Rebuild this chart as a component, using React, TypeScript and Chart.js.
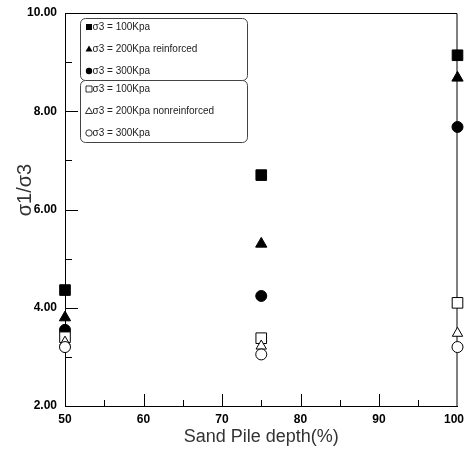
import { useEffect, useRef } from "react";
import { Chart, registerables } from "chart.js";

Chart.register(...registerables);

// Sand pile depth (%) on the x axis
const depths = [50, 75, 100];

// σ1/σ3 ratios, reinforced piles
const reinforced100 = [4.36, 6.7, 9.14];
const reinforced200 = [3.8, 5.3, 8.68];
const reinforced300 = [3.55, 4.24, 7.68];

// σ1/σ3 ratios, non-reinforced piles
const plain100 = [3.4, 3.38, 4.1];
const plain200 = [3.3, 3.22, 3.48];
const plain300 = [3.2, 3.05, 3.2];

const legendReinforced = ["σ3 = 100Kpa", "σ3 = 200Kpa reinforced", "σ3 = 300Kpa"];
const legendPlain = ["σ3 = 100Kpa", "σ3 = 200Kpa nonreinforced", "σ3 = 300Kpa"];
const legendShapes = ["rect", "triangle", "circle"];

const xTitle = "Sand Pile depth(%)";
const yTitle = "σ1/σ3";

const FONT = "'Liberation Sans', Arial, sans-serif";

function toPoints(values: number[]) {
  return depths.map((d, i) => ({ x: d, y: values[i] }));
}

function marker(ctx: CanvasRenderingContext2D, shape: string, x: number, y: number, filled: boolean) {
  ctx.beginPath();
  if (shape === "rect") {
    ctx.rect(x - 3, y - 3, 6, 6);
  } else if (shape === "triangle") {
    ctx.moveTo(x, y - 3.5);
    ctx.lineTo(x + 3.5, y + 2.5);
    ctx.lineTo(x - 3.5, y + 2.5);
    ctx.closePath();
  } else {
    ctx.arc(x, y, 3.2, 0, Math.PI * 2);
  }
  if (filled) {
    ctx.fillStyle = "#000";
    ctx.fill();
  } else {
    ctx.fillStyle = "#fff";
    ctx.fill();
    ctx.strokeStyle = "#000";
    ctx.lineWidth = 0.8;
    ctx.stroke();
  }
}

function roundBox(ctx: CanvasRenderingContext2D, x: number, y: number, w: number, h: number, r: number) {
  ctx.beginPath();
  ctx.moveTo(x + r, y);
  ctx.lineTo(x + w - r, y);
  ctx.arcTo(x + w, y, x + w, y + r, r);
  ctx.lineTo(x + w, y + h - r);
  ctx.arcTo(x + w, y + h, x + w - r, y + h, r);
  ctx.lineTo(x + r, y + h);
  ctx.arcTo(x, y + h, x, y + h - r, r);
  ctx.lineTo(x, y + r);
  ctx.arcTo(x, y, x + r, y, r);
  ctx.closePath();
}

// Frame, inward tick marks, x tick labels, axis titles and the two-part legend
const decorations = {
  id: "decorations",
  beforeDatasetsDraw(chart: any) {
    const { ctx, chartArea, scales } = chart;
    const xs = scales.x;
    const ys = scales.y;
    ctx.save();
    ctx.strokeStyle = "#000";
    ctx.lineWidth = 1;
    ctx.beginPath();
    ctx.moveTo(chartArea.left, chartArea.top + 0.5);
    ctx.lineTo(chartArea.right - 0.5, chartArea.top + 0.5);
    ctx.lineTo(chartArea.right - 0.5, chartArea.bottom);
    ctx.stroke();

    ctx.beginPath();
    for (let v = 3; v <= 9; v++) {
      const py = Math.round(ys.getPixelForValue(v)) + 0.5;
      const len = v % 2 === 0 ? 13 : 7;
      ctx.moveTo(chartArea.left, py);
      ctx.lineTo(chartArea.left + len, py);
    }
    for (let v = 55; v <= 95; v += 5) {
      const px = Math.round(xs.getPixelForValue(v)) + 0.5;
      const len = v % 10 === 0 ? 12 : 6;
      ctx.moveTo(px, chartArea.bottom);
      ctx.lineTo(px, chartArea.bottom - len);
    }
    ctx.stroke();

    // x tick labels, the last one kept inside the canvas edge
    ctx.fillStyle = "#000";
    ctx.font = `bold 12px ${FONT}`;
    ctx.textAlign = "left";
    ctx.textBaseline = "middle";
    for (const t of xs.ticks) {
      const text = String(t.value);
      const w = ctx.measureText(text).width;
      let x = xs.getPixelForValue(t.value) - w / 2;
      x = Math.min(x, chart.width - 2 - w);
      ctx.fillText(text, x, chartArea.bottom + 14);
    }
    ctx.restore();
  },
  afterDraw(chart: any) {
    const { ctx, chartArea } = chart;
    ctx.save();
    ctx.fillStyle = "#333";
    ctx.font = `18px ${FONT}`;
    ctx.textAlign = "center";
    ctx.textBaseline = "middle";
    ctx.fillText(xTitle, (chartArea.left + chartArea.right) / 2, 437);

    ctx.font = `20px ${FONT}`;
    ctx.translate(25, 190);
    ctx.rotate(-Math.PI / 2);
    ctx.fillText(yTitle, 0, 0);
    ctx.restore();

    ctx.save();
    const boxes = [
      { top: 18.5, labels: legendReinforced, filled: true },
      { top: 80.5, labels: legendPlain, filled: false },
    ];
    for (const b of boxes) {
      roundBox(ctx, 80.5, b.top, 167, 62, 5);
      ctx.fillStyle = "#fff";
      ctx.fill();
      ctx.strokeStyle = "#444";
      ctx.lineWidth = 1;
      ctx.stroke();
      b.labels.forEach((label, i) => {
        const y = b.top + 8.5 + i * 22;
        marker(ctx, legendShapes[i], 89, y, b.filled);
        ctx.fillStyle = "#222";
        ctx.font = `10px ${FONT}`;
        ctx.textAlign = "left";
        ctx.textBaseline = "middle";
        ctx.fillText(label, 92.5, y);
      });
    }
    ctx.restore();
  },
};

export default function App() {
  const canvasRef = useRef<HTMLCanvasElement | null>(null);

  useEffect(() => {
    const canvas = canvasRef.current;
    if (!canvas) return;

    const filled = (label: string, values: number[], style: string, radius: number) => ({
      label,
      data: toPoints(values),
      pointStyle: style,
      pointRadius: radius,
      backgroundColor: "#000",
      borderColor: "#000",
      borderWidth: 1,
      showLine: false,
      clip: false,
    });
    const open = (label: string, values: number[], style: string, radius: number) => ({
      label,
      data: toPoints(values),
      pointStyle: style,
      pointRadius: radius,
      backgroundColor: "#fff",
      borderColor: "#000",
      borderWidth: 1,
      showLine: false,
      clip: false,
    });

    const chart = new Chart(canvas, {
      type: "scatter",
      data: {
        datasets: [
          open(legendPlain[2], plain300, "circle", 5.5),
          open(legendPlain[1], plain200, "triangle", 6),
          open(legendPlain[0], plain100, "rect", 7.5),
          filled(legendReinforced[2], reinforced300, "circle", 5.5),
          filled(legendReinforced[1], reinforced200, "triangle", 6.5),
          filled(legendReinforced[0], reinforced100, "rect", 7.5),
        ] as any,
      },
      options: {
        responsive: false,
        animation: false,
        layout: { padding: { top: 13, right: 8, left: 0, bottom: 0 } },
        plugins: {
          legend: { display: false },
          tooltip: { enabled: false },
        },
        scales: {
          x: {
            type: "linear",
            min: 50,
            max: 100,
            afterFit: (s: any) => {
              s.height = 45;
              s.paddingLeft = 0;
              s.paddingRight = 0;
            },
            grid: { display: false, drawTicks: false },
            border: { display: true, color: "#000", width: 1 },
            ticks: { stepSize: 10, display: false },
          },
          y: {
            type: "linear",
            min: 2,
            max: 10,
            afterFit: (s: any) => {
              s.width = 65;
              s.paddingTop = 0;
              s.paddingBottom = 0;
            },
            grid: { display: false, drawTicks: false },
            border: { display: true, color: "#000", width: 1 },
            ticks: {
              stepSize: 2,
              padding: 8,
              color: "#000",
              font: { family: FONT, size: 12, weight: "bold" },
              callback: (v: any) => Number(v).toFixed(2),
            },
          },
        },
      },
      plugins: [decorations],
    });

    return () => chart.destroy();
  }, []);

  return (
    <div style={{ position: "absolute", left: 0, top: 0, width: 466, height: 451, background: "#fff" }}>
      <canvas ref={canvasRef} width={466} height={451} />
    </div>
  );
}
